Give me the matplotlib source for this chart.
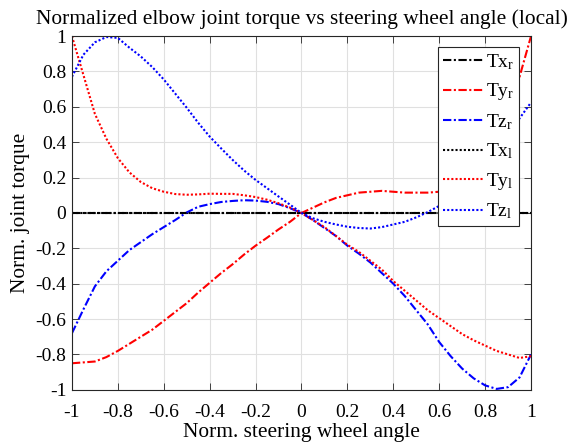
import numpy as np
import matplotlib
matplotlib.use('Agg')
import matplotlib.pyplot as plt

plt.rcParams['font.family'] = ['Liberation Serif', 'DejaVu Serif']
plt.rcParams['mathtext.fontset'] = 'custom'
plt.rcParams['mathtext.rm'] = 'Liberation Serif'
plt.rcParams['mathtext.it'] = 'Liberation Serif:italic'

# normalised steering wheel angle (common sample grid)
angle = np.round(np.arange(-1, 1.0001, 0.05), 2)

# values
tx_r = [0.0] * len(angle)
tx_l = [0.0] * len(angle)
ty_r = [-0.85, -0.845, -0.84, -0.815, -0.78, -0.74, -0.70, -0.66, -0.61, -0.56,
        -0.51, -0.45, -0.395, -0.34, -0.29, -0.235, -0.185, -0.14, -0.093, -0.05,
        0.0, 0.03, 0.06, 0.085, 0.10, 0.115, 0.12, 0.125, 0.12, 0.115,
        0.115, 0.115, 0.12, 0.14, 0.18, 0.24, 0.32, 0.45, 0.59, 0.77, 1.0]
tz_r = [-0.68, -0.545, -0.415, -0.33, -0.27, -0.21, -0.165, -0.12, -0.08, -0.04,
        0.003, 0.035, 0.05, 0.062, 0.068, 0.072, 0.07, 0.063, 0.05, 0.027,
        0.0, -0.04, -0.085, -0.13, -0.185, -0.23, -0.28, -0.34, -0.40, -0.47,
        -0.55, -0.63, -0.73, -0.81, -0.88, -0.935, -0.975, -0.995, -0.985, -0.93, -0.80]
ty_l = [1.0, 0.78, 0.56, 0.42, 0.31, 0.23, 0.175, 0.14, 0.12, 0.107,
        0.103, 0.105, 0.109, 0.108, 0.108, 0.10, 0.09, 0.075, 0.055, 0.03,
        0.0, -0.04, -0.08, -0.13, -0.18, -0.22, -0.27, -0.32, -0.385, -0.44,
        -0.495, -0.55, -0.595, -0.64, -0.685, -0.72, -0.75, -0.78, -0.80, -0.82, -0.81]
tz_l = [0.77, 0.895, 0.965, 0.995, 0.99, 0.935, 0.885, 0.825, 0.755, 0.675,
        0.595, 0.51, 0.432, 0.365, 0.30, 0.24, 0.187, 0.14, 0.093, 0.047,
        0.0, -0.03, -0.05, -0.065, -0.078, -0.085, -0.088, -0.08, -0.065, -0.05,
        -0.025, 0.005, 0.04, 0.09, 0.16, 0.22, 0.29, 0.37, 0.45, 0.535, 0.625]

ticks = np.round(np.arange(-1, 1.0001, 0.2), 1)
tick_labels = ['-1', '-0.8', '-0.6', '-0.4', '-0.2', '0', '0.2', '0.4', '0.6', '0.8', '1']

fig = plt.figure(figsize=(5.71, 4.46), dpi=100)
ax = fig.add_axes([0.126, 0.126, 0.804, 0.793])

lw = 1.5
dashdot = (0, (4, 1.2, 1, 1.2))
dotted = (0, (1, 1))
ax.plot(angle, tx_r, color='k', ls=dashdot, lw=lw, label='Tx$_\\mathrm{r}$')
ax.plot(angle, ty_r, color='r', ls=dashdot, lw=lw, label='Ty$_\\mathrm{r}$')
ax.plot(angle, tz_r, color='b', ls=dashdot, lw=lw, label='Tz$_\\mathrm{r}$')
ax.plot(angle, tx_l, color='k', ls=dotted, lw=lw, label='Tx$_\\mathrm{l}$')
ax.plot(angle, ty_l, color='r', ls=dotted, lw=lw, label='Ty$_\\mathrm{l}$')
ax.plot(angle, tz_l, color='b', ls=dotted, lw=lw, label='Tz$_\\mathrm{l}$')

ax.set_xlim(-1, 1)
ax.set_ylim(-1, 1)
ax.set_xticks(ticks)
ax.set_xticklabels(tick_labels)
ax.set_yticks(ticks)
ax.set_yticklabels(tick_labels)
ax.tick_params(direction='in', top=True, right=True, labelsize=14, length=5,
               width=0.6, color='0.15')
ax.tick_params(axis='x', pad=10)
ax.tick_params(axis='y', pad=4)
ax.grid(True, color='0.88', lw=0.8)
ax.set_axisbelow(True)
for s in ax.spines.values():
    s.set_color('0.15')
    s.set_linewidth(0.8)

ax.set_title('Normalized elbow joint torque vs steering wheel angle (local)', fontsize=15.4, pad=9)
ax.set_xlabel('Norm. steering wheel angle', fontsize=15.4, labelpad=2)
ax.set_ylabel('Norm. joint torque', fontsize=15.4, labelpad=4)

leg = ax.legend(loc='upper right', bbox_to_anchor=(0.974, 0.969), borderaxespad=0,
                fontsize=14, fancybox=False, framealpha=1, edgecolor='0.15',
                handlelength=2.1, handletextpad=0.12, labelspacing=0.5,
                borderpad=0.25)
leg.get_frame().set_linewidth(0.8)

fig.savefig('out.png', dpi=100)
